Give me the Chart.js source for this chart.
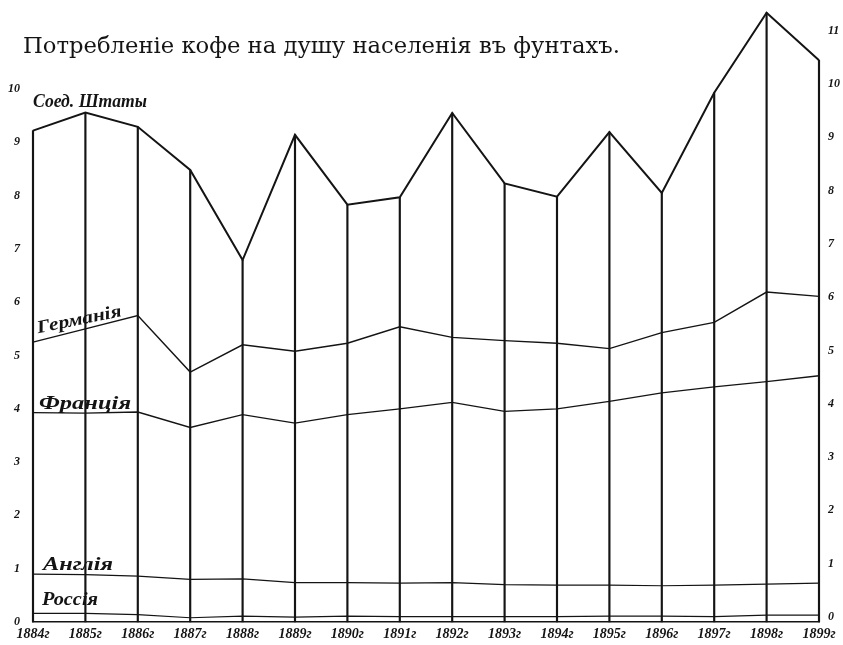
<!DOCTYPE html>
<html>
<head>
<meta charset="utf-8">
<script src="https://cdn.jsdelivr.net/npm/chart.js@4/dist/chart.umd.min.js"></script>
<style>
  html, body { margin: 0; padding: 0; background: #fff; }
</style>
</head>
<body>
<canvas id="chart" width="843" height="645"></canvas>
<script>
// years along the bottom
const years = ['1884г', '1885г', '1886г', '1887г', '1888г', '1889г', '1890г', '1891г',
               '1892г', '1893г', '1894г', '1895г', '1896г', '1897г', '1898г', '1899г'];

// pounds of coffee per head
const usa     = [9.22, 9.56, 9.29, 8.48, 6.79, 9.14, 7.83, 7.97, 9.55, 8.23, 7.98, 9.19, 8.05, 9.93, 11.43, 10.54];
const germany = [5.25, 5.50, 5.75, 4.69, 5.20, 5.08, 5.23, 5.54, 5.34, 5.28, 5.23, 5.13, 5.43, 5.62, 6.19, 6.11];
const france  = [3.93, 3.92, 3.94, 3.65, 3.89, 3.73, 3.89, 4.00, 4.12, 3.95, 4.00, 4.14, 4.30, 4.41, 4.51, 4.62];
const england = [0.90, 0.89, 0.86, 0.80, 0.81, 0.74, 0.74, 0.73, 0.74, 0.70, 0.69, 0.69, 0.68, 0.69, 0.71, 0.73];
const russia  = [0.16, 0.16, 0.14, 0.08, 0.11, 0.09, 0.11, 0.10, 0.10, 0.10, 0.10, 0.11, 0.11, 0.10, 0.13, 0.13];

const countryNames = ['Соед. Штаты', 'Германія', 'Франція', 'Англія', 'Россія'];
const titleText = 'Потребленіе кофе на душу населенія въ фунтахъ.';

const leftTicks = [0, 1, 2, 3, 4, 5, 6, 7, 8, 9, 10];
const rightTicks = [0, 1, 2, 3, 4, 5, 6, 7, 8, 9, 10, 11];

const INK = '#141414';
const tickFont = { family: 'Liberation Serif', size: 12, style: 'italic', weight: 'bold' };

// draws text squeezed/stretched to a given width
function drawFitted(ctx, text, x, y, width, font, angle) {
    ctx.save();
    ctx.font = font;
    const w = ctx.measureText(text).width;
    ctx.translate(x, y);
    if (angle) ctx.rotate(angle);
    ctx.scale(width / w, 1);
    ctx.fillStyle = INK;
    ctx.textBaseline = 'alphabetic';
    ctx.textAlign = 'left';
    ctx.fillText(text, 0, 0);
    ctx.restore();
}

const labelsPlugin = {
    id: 'labels',
    afterDraw(chart) {
        const ctx = chart.ctx;
        const xs = chart.scales.x;
        const ys = chart.scales.y;
        drawFitted(ctx, titleText, 23, 53, 597, '22px "DejaVu Serif"');

        const x0 = xs.getPixelForValue(0);
        const hand = 'italic bold 18px "Liberation Serif"';
        drawFitted(ctx, countryNames[0], x0, ys.getPixelForValue(usa[0]) - 24, 114, hand);
        drawFitted(ctx, countryNames[1], x0 + 5, ys.getPixelForValue(germany[0]) - 9, 86, hand, -0.2);
        drawFitted(ctx, countryNames[2], x0 + 6, ys.getPixelForValue(france[0]) - 4, 92, hand);
        drawFitted(ctx, countryNames[3], x0 + 10, ys.getPixelForValue(england[0]) - 4, 70, hand);
        drawFitted(ctx, countryNames[4], x0 + 9, ys.getPixelForValue(russia[0]) - 8, 56, hand);
    }
};

function lineSet(data, width) {
    return {
        type: 'line',
        data: data,
        borderColor: INK,
        borderWidth: width,
        pointRadius: 0,
        tension: 0,
        fill: false,
        clip: false
    };
}

function noPad(s) {
    s.paddingTop = 0;
    s.paddingBottom = 0;
}

new Chart(document.getElementById('chart'), {
    type: 'line',
    data: {
        labels: years,
        datasets: [
            lineSet(usa, 2),
            lineSet(germany, 1.4),
            lineSet(france, 1.3),
            lineSet(england, 1.2),
            lineSet(russia, 1.2),
            {
                // the drop lines from the U.S. curve down to the base
                type: 'bar',
                data: usa,
                backgroundColor: INK,
                barThickness: 1.5,
                clip: false
            }
        ]
    },
    options: {
        responsive: false,
        animation: false,
        layout: { padding: 0 },
        plugins: {
            legend: { display: false },
            tooltip: { enabled: false }
        },
        scales: {
            x: {
                offset: false,
                grid: { display: false, drawTicks: false },
                border: { display: true, color: INK, width: 1.5 },
                ticks: {
                    color: INK,
                    font: { family: 'Liberation Serif', size: 14, style: 'italic', weight: 'bold' },
                    padding: 4,
                    maxRotation: 0,
                    autoSkip: false
                },
                afterFit: s => { s.height = 23; s.paddingLeft = 0; s.paddingRight = 0; }
            },
            y: {
                position: 'left',
                min: 0,
                max: 11.67,
                grid: { display: false, drawTicks: false },
                border: { display: false },
                afterBuildTicks: s => { s.ticks = leftTicks.map(v => ({ value: v })); },
                ticks: { color: INK, font: tickFont, padding: 13 },
                afterFit: s => { s.width = 33; noPad(s); }
            },
            y2: {
                position: 'right',
                min: 0,
                max: 11.67,
                grid: { display: false, drawTicks: false },
                border: { display: false },
                afterBuildTicks: s => { s.ticks = rightTicks.map(v => ({ value: v })); },
                ticks: { color: INK, font: tickFont, padding: 9, labelOffset: -5 },
                afterFit: s => { s.width = 24; noPad(s); }
            }
        }
    },
    plugins: [labelsPlugin]
});
</script>
</body>
</html>
